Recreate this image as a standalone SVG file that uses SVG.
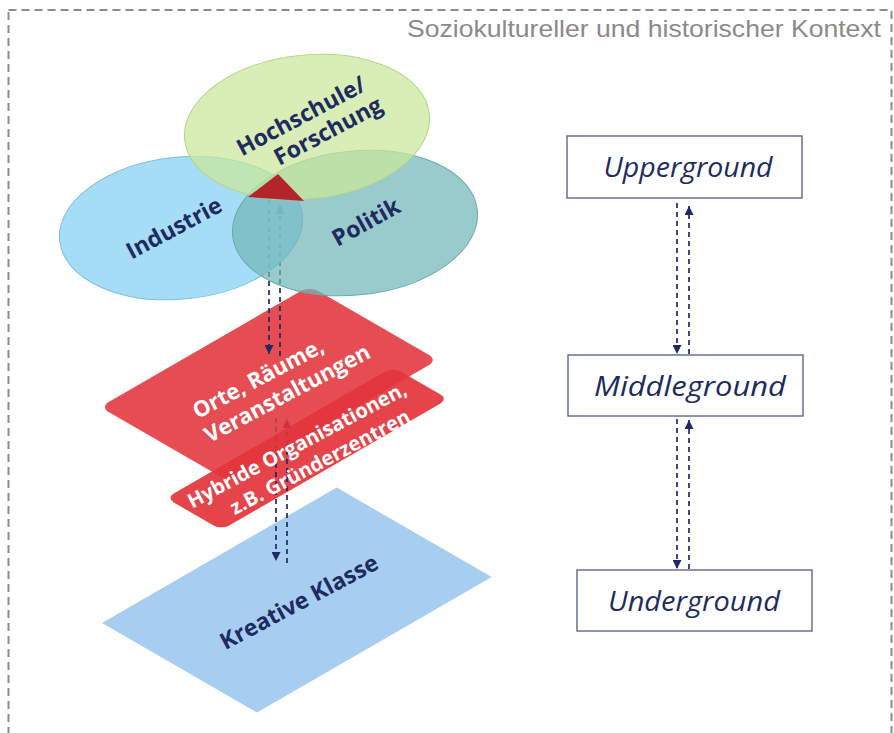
<svg xmlns="http://www.w3.org/2000/svg" width="894" height="733" viewBox="0 0 894 733">
<defs>
<style>
.lbl{font-family:"Open Sans","Liberation Sans",sans-serif;font-weight:bold;text-anchor:middle;}
.navy{fill:#1e2b60;}
.white{fill:#ffffff;}
.lvl{font-family:"Open Sans","Liberation Sans",sans-serif;font-style:italic;font-size:28px;fill:#1e2b60;text-anchor:middle;}
.box{fill:#ffffff;stroke:#5d6690;stroke-width:1.4;}
.dash{stroke:#1f2a64;stroke-width:1.7;stroke-dasharray:5 4;fill:none;}
</style>
<marker id="ah" viewBox="0 0 10 10" refX="10" refY="5" markerWidth="9" markerHeight="9" markerUnits="userSpaceOnUse" orient="auto">
<path d="M0,0 L10,5 L0,10 z" fill="#1f2a64"/>
</marker>
</defs>
<rect x="8.5" y="10" width="883" height="760" fill="none" stroke="#8c8c8c" stroke-width="2" stroke-dasharray="8 5"/>
<text x="881" y="37" font-family="'Liberation Sans Narrow','Liberation Sans',sans-serif" font-size="24" fill="#8a8a8a" text-anchor="end" textLength="474" lengthAdjust="spacingAndGlyphs">Soziokultureller und historischer Kontext</text>

<g id="kreative">
<rect x="0" y="0" width="271" height="179" fill="#a7cdf0" transform="matrix(0.866 -0.5 0.866 0.5 102 623)"/>
</g>
<g id="hybride">
<rect x="0" y="0" width="262" height="64" rx="9" fill="#e2343b" fill-opacity="0.92" transform="matrix(0.866 -0.5 0.866 0.5 166 498)"/>
</g>
<g id="conn-lower">
<line class="dash" x1="276" y1="418" x2="276" y2="561" marker-end="url(#ah)"/>
<line class="dash" x1="287" y1="563" x2="287" y2="419" marker-end="url(#ah)"/>
</g>
<g id="orte">
<rect x="0" y="0" width="242" height="148" rx="10" fill="#e2343b" fill-opacity="0.88" transform="matrix(0.866 -0.5 0.866 0.5 100 407)"/>
</g>
<g id="conn-upper">
<line class="dash" x1="269" y1="200" x2="269" y2="354" marker-end="url(#ah)"/>
<line class="dash" x1="280" y1="356" x2="280" y2="205" marker-end="url(#ah)"/>
</g>
<g id="industrie">
<ellipse cx="181" cy="228" rx="122" ry="71" transform="rotate(-6 181 228)" fill="#8ed4f4" fill-opacity="0.8" stroke="#7cbfdc" stroke-width="1"/>
</g>
<g id="politik">
<ellipse cx="355" cy="223" rx="123" ry="72" transform="rotate(-6 355 223)" fill="#72b5b9" fill-opacity="0.72" stroke="#6aa9ad" stroke-width="1"/>
</g>
<g id="hochschule">
<ellipse cx="307" cy="127" rx="123" ry="72" transform="rotate(-6 307 127)" fill="#cbe89a" fill-opacity="0.72" stroke="#b3d688" stroke-width="1"/>
</g>
<g id="center">
<polygon points="278,174 248,197 304,201" fill="#b3252a"/>
</g>

<g id="labels-left">
<text class="lbl navy" font-size="23" transform="translate(301 116) rotate(-28)" dy="8">Hochschule/</text>
<text class="lbl navy" font-size="23" transform="translate(328 131) rotate(-28)" dy="8">Forschung</text>
<text class="lbl navy" font-size="23" transform="translate(174 228) rotate(-28)" dy="8">Industrie</text>
<text class="lbl navy" font-size="23" transform="translate(366 222) rotate(-29)" dy="8">Politik</text>
<text class="lbl white" font-size="22" transform="translate(258 378) rotate(-28)" dy="8">Orte, Räume,</text>
<text class="lbl white" font-size="22" transform="translate(287 393) rotate(-28)" dy="8">Veranstaltungen</text>
<text class="lbl white" font-size="20" transform="translate(297 445) rotate(-28)" dy="7">Hybride Organisationen,</text>
<text class="lbl white" font-size="20" transform="translate(320 462) rotate(-28)" dy="7">z.B. Gründerzentren</text>
<text class="lbl navy" font-size="23" transform="translate(299 602) rotate(-28)" dy="8">Kreative Klasse</text>
</g>

<g id="upperground">
<rect class="box" x="567" y="136" width="235" height="62"/>
<text class="lvl" x="688" y="177" textLength="169" lengthAdjust="spacingAndGlyphs">Upperground</text>
</g>
<g id="middleground">
<rect class="box" x="568" y="355" width="235" height="61"/>
<text class="lvl" x="690" y="396" textLength="192" lengthAdjust="spacingAndGlyphs">Middleground</text>
</g>
<g id="underground">
<rect class="box" x="577" y="570" width="235" height="61"/>
<text class="lvl" x="694" y="611" textLength="172" lengthAdjust="spacingAndGlyphs">Underground</text>
</g>
<g id="connectors">
<line class="dash" x1="677" y1="203" x2="677" y2="354" marker-end="url(#ah)"/>
<line class="dash" x1="689" y1="354" x2="689" y2="206" marker-end="url(#ah)"/>
<line class="dash" x1="677" y1="419" x2="677" y2="569" marker-end="url(#ah)"/>
<line class="dash" x1="689" y1="569" x2="689" y2="420" marker-end="url(#ah)"/>
</g>
</svg>
